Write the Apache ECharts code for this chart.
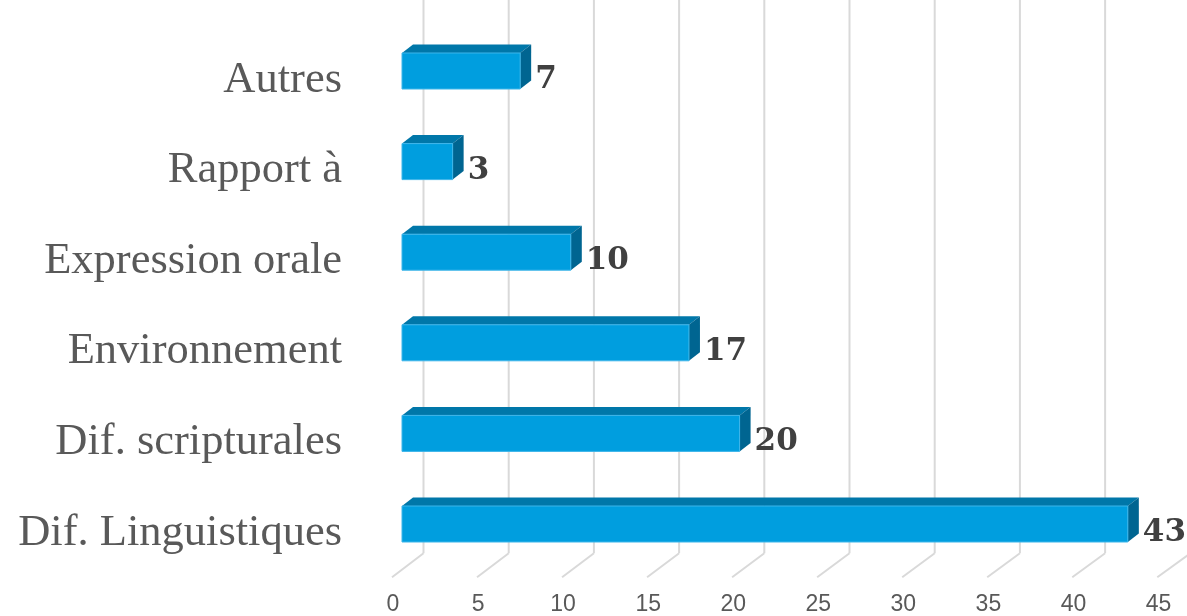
<!DOCTYPE html>
<html><head><meta charset="utf-8">
<script src="https://cdn.jsdelivr.net/npm/echarts@6/dist/echarts.min.js"></script>
<style>html,body{margin:0;padding:0;background:#fff}#c{width:1187px;height:616px}</style>
</head><body><div id="c"></div>
<script>
var categories = ['Dif. Linguistiques','Dif. scripturales','Environnement','Expression orale','Rapport à','Autres'];
var values = [43, 20, 17, 10, 3, 7];
var ticks = [0,5,10,15,20,25,30,35,40,45];

var DX = 11, DY = 8.5, H = 36;
var chart = echarts.init(document.getElementById('c'));
chart.setOption({
  animation: false,
  grid: [
    {left: 402, right: 25.4, top: 25.7, bottom: 46.7},
    {left: 393, right: 28.5, top: 25.7, bottom: 46.7}
  ],
  xAxis: [
    {
      type: 'value', gridIndex: 0, min: 0, max: 45, interval: 5,
      axisLine: {show: false}, axisTick: {show: false}, splitLine: {show: false}, axisLabel: {show: false}
    },
    {
      type: 'value', gridIndex: 1, min: 0, max: 45, interval: 5,
      axisLine: {show: false}, axisTick: {show: false}, splitLine: {show: false},
      axisLabel: {color: '#595959', fontSize: 23, fontFamily: 'Liberation Sans, Arial, sans-serif', margin: 25}
    }
  ],
  yAxis: [
    {
      type: 'category', gridIndex: 0, data: categories,
      axisLine: {show: false}, axisTick: {show: false},
      axisLabel: {
        margin: 60,
        formatter: function (v) { return '{a|' + v + '}'; },
        rich: {a: {color: '#595959', fontSize: 44.5, fontFamily: 'Liberation Serif, Times New Roman, serif', padding: [18, 0, 0, 0]}}
      }
    },
    {
      type: 'category', gridIndex: 1, data: categories, show: false
    }
  ],
  series: [
    {
      type: 'custom', z: 1, xAxisIndex: 0, yAxisIndex: 0,
      data: ticks.map(function (t) { return [t, 0]; }),
      renderItem: function (params, api) {
        var v = api.value(0);
        var x0 = api.coord([0, 0])[0];
        var u = api.size([1, 0])[0];
        var band = api.size([0, 1])[1];
        var gb = api.coord([0, 0])[1] + band / 2;
        var gt = api.coord([0, categories.length - 1])[1] - band / 2;
        var xb = x0 + 21.5 + v * u * 1.0095;
        var xf = x0 - 10 + v * u * 1.0075;
        var style = {stroke: '#D9D9D9', lineWidth: 2, fill: null};
        return {type: 'group', children: [
          {type: 'line', shape: {x1: xb, y1: gt - 26, x2: xb, y2: gb - 16}, style: style},
          {type: 'line', shape: {x1: xb, y1: gb - 16, x2: xf, y2: gb + 8}, style: style}
        ]};
      }
    },
    {
      type: 'custom', z: 2, xAxisIndex: 0, yAxisIndex: 0,
      data: values.map(function (v, i) { return [v, i]; }),
      renderItem: function (params, api) {
        var v = api.value(0), i = api.value(1);
        var p0 = api.coord([0, i]);
        var p1 = api.coord([v, i]);
        var x0 = p0[0], x1 = p1[0], yc = p0[1];
        var yt = yc - H / 2, yb = yc + H / 2;
        return {type: 'group', children: [
          {type: 'polygon', shape: {points: [[x0, yt], [x0 + DX, yt - DY], [x1 + DX, yt - DY], [x1, yt]]}, style: {fill: '#0077A9'}},
          {type: 'polygon', shape: {points: [[x1, yt], [x1 + DX, yt - DY], [x1 + DX, yb - DY], [x1, yb]]}, style: {fill: '#006591'}},
          {type: 'rect', shape: {x: x0, y: yt, width: x1 - x0, height: H}, style: {fill: '#009EDF', stroke: '#3DB6EA', lineWidth: 1}},
          {type: 'text', style: {text: String(v), x: x1 + DX + 4, y: yc + 9, align: 'left', verticalAlign: 'middle',
            fill: '#404040', font: 'bold 31px "DejaVu Serif", "Liberation Serif", serif'}}
        ]};
      }
    }
  ]
});
</script></body></html>
